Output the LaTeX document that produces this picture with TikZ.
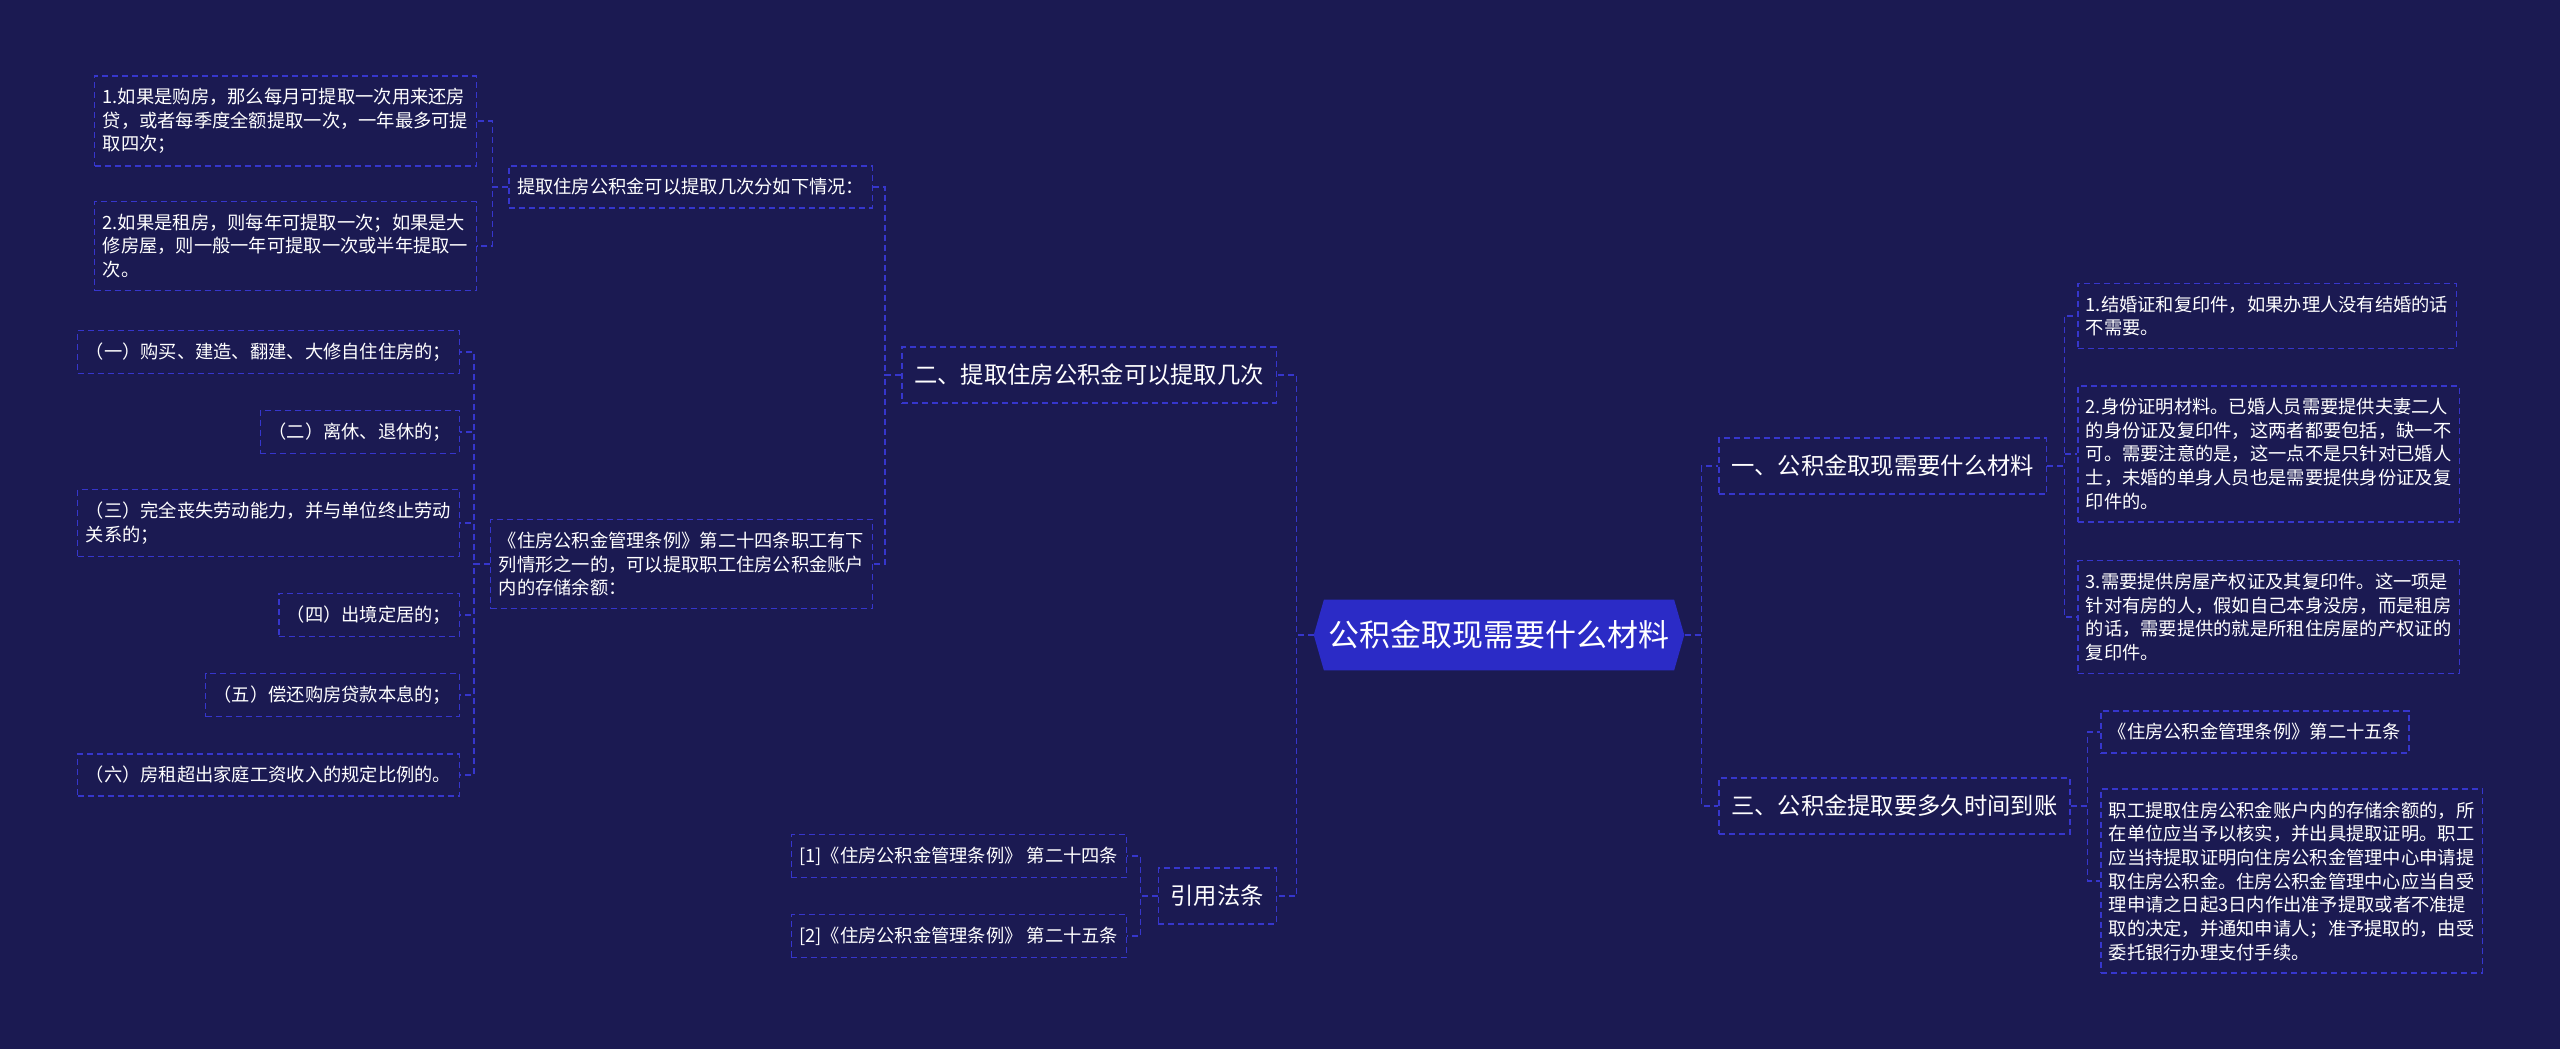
\documentclass[tikz,border=0pt]{standalone}
\usepackage{fontspec}
\setmainfont{Noto Sans CJK SC}
\usepackage{tikz}
\definecolor{bgnavy}{HTML}{1B1A52}
\definecolor{rootblue}{HTML}{2B2BC6}
\definecolor{dashblue}{HTML}{3636CC}
\usetikzlibrary{shapes.symbols}

\begin{document}
\begin{tikzpicture}[x=0.3mm,y=-0.3mm,
    leaf/.style={draw=dashblue,dash pattern=on 1.8mm off 1.2mm,line width=0.45mm,text=white,align=left,inner xsep=2.4mm,inner ysep=3.7mm,font=\fontsize{15.6pt}{20.2pt}\selectfont},
    branch/.style={leaf,inner xsep=3.7mm,inner ysep=5.1mm,font=\fontsize{19.9pt}{24pt}\selectfont},
    link/.style={dashblue,dash pattern=on 1.8mm off 1.2mm,line width=0.45mm}]
    \fill[bgnavy] (0,0) rectangle (2560,1049);
    \useasboundingbox (0,0) rectangle (2560,1049);
    \node[signal,signal to=west and east,signal pointer angle=148,fill=rootblue,text=white,inner xsep=1.5mm,inner ysep=6.3mm,font=\fontsize{26.4pt}{30pt}\selectfont] (root) at (1499,635) {公积金取现需要什么材料};
    \node[branch,anchor=west] (mat) at (1718,466) {一、公积金取现需要什么材料};
    \node[branch,anchor=west] (arrive) at (1718,806) {三、公积金提取要多久时间到账};
    \node[leaf,anchor=west] (mat1) at (2077,316) {1.结婚证和复印件，如果办理人没有结婚的话\\不需要。};
    \node[leaf,anchor=west] (mat2) at (2077,454) {2.身份证明材料。已婚人员需要提供夫妻二人\\的身份证及复印件，这两者都要包括，缺一不\\可。需要注意的是，这一点不是只针对已婚人\\士，未婚的单身人员也是需要提供身份证及复\\印件的。};
    \node[leaf,anchor=west] (mat3) at (2077,617) {3.需要提供房屋产权证及其复印件。这一项是\\针对有房的人，假如自己本身没房，而是租房\\的话，需要提供的就是所租住房屋的产权证的\\复印件。};
    \node[leaf,anchor=west] (art25) at (2100,732) {《住房公积金管理条例》第二十五条};
    \node[leaf,anchor=west] (art25txt) at (2100,881) {职工提取住房公积金账户内的存储余额的，所\\在单位应当予以核实，并出具提取证明。职工\\应当持提取证明向住房公积金管理中心申请提\\取住房公积金。住房公积金管理中心应当自受\\理申请之日起3日内作出准予提取或者不准提\\取的决定，并通知申请人；准予提取的，由受\\委托银行办理支付手续。};
    \node[branch,anchor=east] (times) at (1277,375) {二、提取住房公积金可以提取几次};
    \node[branch,anchor=east] (cite) at (1277,896) {引用法条};
    \node[leaf,anchor=east] (cases) at (873,187) {提取住房公积金可以提取几次分如下情况：};
    \node[leaf,anchor=east] (art24) at (873,564) {《住房公积金管理条例》第二十四条职工有下\\列情形之一的，可以提取职工住房公积金账户\\内的存储余额：};
    \node[leaf,anchor=east] (buy) at (477,121) {1.如果是购房，那么每月可提取一次用来还房\\贷，或者每季度全额提取一次，一年最多可提\\取四次；};
    \node[leaf,anchor=east] (rent) at (477,246) {2.如果是租房，则每年可提取一次；如果是大\\修房屋，则一般一年可提取一次或半年提取一\\次。};
    \node[leaf,anchor=east] (c1) at (460,352) {（一）购买、建造、翻建、大修自住住房的；};
    \node[leaf,anchor=east] (c2) at (460,432) {（二）离休、退休的；};
    \node[leaf,anchor=east] (c3) at (460,523) {（三）完全丧失劳动能力，并与单位终止劳动\\关系的；};
    \node[leaf,anchor=east] (c4) at (460,615) {（四）出境定居的；};
    \node[leaf,anchor=east] (c5) at (460,695) {（五）偿还购房贷款本息的；};
    \node[leaf,anchor=east] (c6) at (460,775) {（六）房租超出家庭工资收入的规定比例的。};
    \node[leaf,anchor=east] (ref1) at (1127,856) {[1]《住房公积金管理条例》 第二十四条};
    \node[leaf,anchor=east] (ref2) at (1127,936) {[2]《住房公积金管理条例》 第二十五条};
    \draw[link] (root.west) -- ++(-17,0) |- (times.east);
    \draw[link] (root.west) -- ++(-17,0) |- (cite.east);
    \draw[link] (root.east) -- ++(17,0) |- (mat.west);
    \draw[link] (root.east) -- ++(17,0) |- (arrive.west);
    \draw[link] (mat.east) -- ++(17,0) |- (mat1.west);
    \draw[link] (mat.east) -- ++(17,0) |- (mat2.west);
    \draw[link] (mat.east) -- ++(17,0) |- (mat3.west);
    \draw[link] (arrive.east) -- ++(17,0) |- (art25.west);
    \draw[link] (arrive.east) -- ++(17,0) |- (art25txt.west);
    \draw[link] (times.west) -- ++(-16,0) |- (cases.east);
    \draw[link] (times.west) -- ++(-16,0) |- (art24.east);
    \draw[link] (cases.west) -- ++(-16,0) |- (buy.east);
    \draw[link] (cases.west) -- ++(-16,0) |- (rent.east);
    \draw[link] (art24.west) -- ++(-16,0) |- (c1.east);
    \draw[link] (art24.west) -- ++(-16,0) |- (c2.east);
    \draw[link] (art24.west) -- ++(-16,0) |- (c3.east);
    \draw[link] (art24.west) -- ++(-16,0) |- (c4.east);
    \draw[link] (art24.west) -- ++(-16,0) |- (c5.east);
    \draw[link] (art24.west) -- ++(-16,0) |- (c6.east);
    \draw[link] (cite.west) -- ++(-17,0) |- (ref1.east);
    \draw[link] (cite.west) -- ++(-17,0) |- (ref2.east);
  \end{tikzpicture}
\end{document}
